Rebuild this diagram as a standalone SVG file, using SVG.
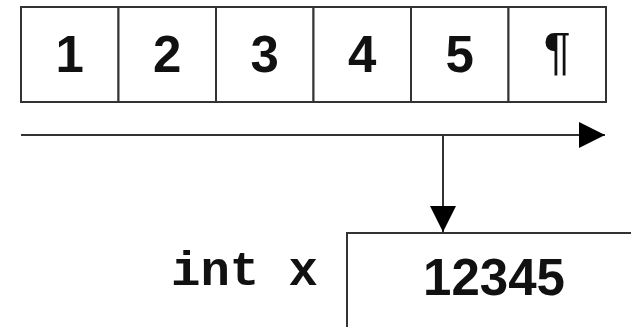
<svg xmlns="http://www.w3.org/2000/svg" width="631" height="327" viewBox="0 0 631 327">
  <style>
    .cell { fill: #ffffff; stroke: #333333; stroke-width: 2; }
    .digit { font-family: "Liberation Sans", Arial, sans-serif; font-weight: bold; font-size: 51px; fill: #111111; text-anchor: middle; }
    .mark { font-weight: normal; }
    .code { font-family: "Liberation Mono", "Courier New", monospace; font-weight: bold; font-size: 49px; fill: #111111; }
    .wire { stroke: #333333; stroke-width: 2; fill: none; }
  </style>
  <defs>
    <marker id="head" viewBox="0 0 26 26" refX="26" refY="13" markerWidth="26" markerHeight="26" markerUnits="userSpaceOnUse" orient="auto">
      <path d="M0,0 L26,13 L0,26 Z" fill="#000000"/>
    </marker>
  </defs>

  <rect width="631" height="327" fill="#ffffff"/>

  <!-- character buffer -->
  <g id="buffer">
    <g id="cell-1"><rect class="cell" x="21" y="7" width="97.5" height="95"/><text class="digit" x="69.75" y="72">1</text></g>
    <g id="cell-2"><rect class="cell" x="118.5" y="7" width="97.5" height="95"/><text class="digit" x="167.25" y="72">2</text></g>
    <g id="cell-3"><rect class="cell" x="216" y="7" width="97.5" height="95"/><text class="digit" x="264.75" y="72">3</text></g>
    <g id="cell-4"><rect class="cell" x="313.5" y="7" width="97.5" height="95"/><text class="digit" x="362.25" y="72">4</text></g>
    <g id="cell-5"><rect class="cell" x="411" y="7" width="97.5" height="95"/><text class="digit" x="459.75" y="72">5</text></g>
    <g id="cell-end"><rect class="cell" x="508.5" y="7" width="97.5" height="95"/><text class="digit mark" x="557.25" y="69">¶</text></g>
  </g>

  <!-- stream and extraction arrows -->
  <g id="connectors">
    <line class="wire" x1="21" y1="135" x2="605" y2="135" marker-end="url(#head)"/>
    <line class="wire" x1="443" y1="135" x2="443" y2="232" marker-end="url(#head)"/>
  </g>

  <!-- target variable -->
  <g id="variable">
    <text class="code" x="171" y="285">int x</text>
    <rect class="cell" x="347" y="233" width="300" height="110"/>
    <text class="digit" x="494" y="295">12345</text>
  </g>
</svg>
